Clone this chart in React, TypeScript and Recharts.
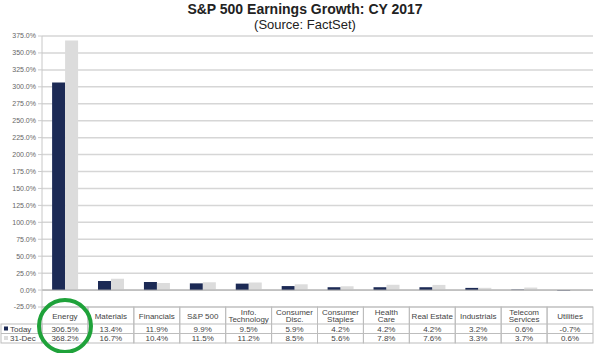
import { BarChart, Bar, XAxis, YAxis, CartesianGrid, ReferenceLine } from "recharts";

const sectors = [
  "Energy",
  "Materials",
  "Financials",
  "S&P 500",
  "Info.\nTechnology",
  "Consumer\nDisc.",
  "Consumer\nStaples",
  "Health\nCare",
  "Real Estate",
  "Industrials",
  "Telecom\nServices",
  "Utilities",
];
const today = [306.5, 13.4, 11.9, 9.9, 9.5, 5.9, 4.2, 4.2, 4.2, 3.2, 0.6, -0.7];
const dec31 = [368.2, 16.7, 10.4, 11.5, 11.2, 8.5, 5.6, 7.8, 7.6, 3.3, 3.7, 0.6];
const yTicks = [-25, 0, 25, 50, 75, 100, 125, 150, 175, 200, 225, 250, 275, 300, 325, 350, 375];

const data = sectors.map((s, i) => ({ sector: s, today: today[i], dec31: dec31[i] }));

const DARK = "#1c2a55";
const LIGHT = "#dcdcdc";
const FONT = "'Liberation Sans', Arial, sans-serif";
const LINE = "#bdbdbd";

// table row positions
const T_TOP = 307;
const T_HEAD = 324;
const T_MID = 333.5;
const T_BOT = 343;
const COL_W = (593 - 42) / sectors.length;

const TableTick = (props: any) => {
  const { x, payload, index } = props;
  const i = payload.index ?? index;
  const lines = String(payload.value).split("\n");
  const left = x - COL_W / 2;
  const fmt = (v: number) => `${v.toFixed(1)}%`;
  return (
    <g fontFamily={FONT} fontSize={8} fill="#444">
      <rect x={left} y={T_TOP} width={COL_W} height={T_BOT - T_TOP} fill="none" stroke={LINE} strokeWidth={1} />
      <line x1={left} x2={left + COL_W} y1={T_HEAD} y2={T_HEAD} stroke={LINE} />
      <line x1={left} x2={left + COL_W} y1={T_MID} y2={T_MID} stroke={LINE} />
      {lines.map((l, k) => (
        <text
          key={k}
          x={x}
          y={lines.length === 1 ? 318.5 : 314.5 + k * 7.5}
          textAnchor="middle"
        >
          {l}
        </text>
      ))}
      <text x={x} y={331.5} textAnchor="middle">
        {fmt(today[i])}
      </text>
      <text x={x} y={341} textAnchor="middle">
        {fmt(dec31[i])}
      </text>
      {i === 0 && (
        <g>
          <rect x={1} y={T_HEAD} width={41} height={T_BOT - T_HEAD} fill="none" stroke={LINE} />
          <line x1={1} x2={42} y1={T_MID} y2={T_MID} stroke={LINE} />
          <rect x={4} y={326.5} width={4} height={4} fill={DARK} />
          <text x={10} y={331.5}>Today</text>
          <rect x={4} y={336} width={4} height={4} fill={LIGHT} />
          <text x={10} y={341}>31-Dec</text>
        </g>
      )}
    </g>
  );
};

export default function App() {
  return (
    <div style={{ position: "absolute", left: 0, top: 0, width: 600, height: 353, background: "#fff" }}>
      <div
        style={{
          position: "absolute",
          left: 0,
          width: 610,
          top: 1,
          textAlign: "center",
          fontFamily: FONT,
          color: "#222",
          lineHeight: "16px",
        }}
      >
        <div style={{ fontSize: 14, fontWeight: "bold" }}>S&amp;P 500 Earnings Growth: CY 2017</div>
        <div style={{ fontSize: 13 }}>(Source: FactSet)</div>
      </div>
      <BarChart
        width={600}
        height={353}
        data={data}
        margin={{ top: 36, right: 7, left: 0, bottom: 0 }}
        barCategoryGap="22%"
        barGap={0}
      >
        <CartesianGrid vertical={false} stroke="#d6d6d6" strokeWidth={1.5} />
        <YAxis
          width={42}
          domain={[-25, 375]}
          ticks={yTicks}
          interval={0}
          tickFormatter={(v: number) => `${v.toFixed(1)}%`}
          tick={{ fontSize: 7, fill: "#666", fontFamily: FONT }}
          tickSize={4}
          tickLine={{ stroke: "#ccc" }}
          axisLine={{ stroke: "#c8c8c8" }}
        />
        <XAxis
          dataKey="sector"
          height={46}
          interval={0}
          tickLine={false}
          axisLine={false}
          tick={<TableTick />}
        />
        <ReferenceLine y={0} stroke="#a8a8a8" strokeWidth={1} />
        <Bar dataKey="today" fill={DARK} isAnimationActive={false} />
        <Bar dataKey="dec31" fill={LIGHT} isAnimationActive={false} />
      </BarChart>
      <svg width={600} height={353} style={{ position: "absolute", left: 0, top: 0, pointerEvents: "none" }}>
        <ellipse cx={65} cy={326} rx={26} ry={26} fill="none" stroke="#1fa23a" strokeWidth={4} />
      </svg>
    </div>
  );
}
